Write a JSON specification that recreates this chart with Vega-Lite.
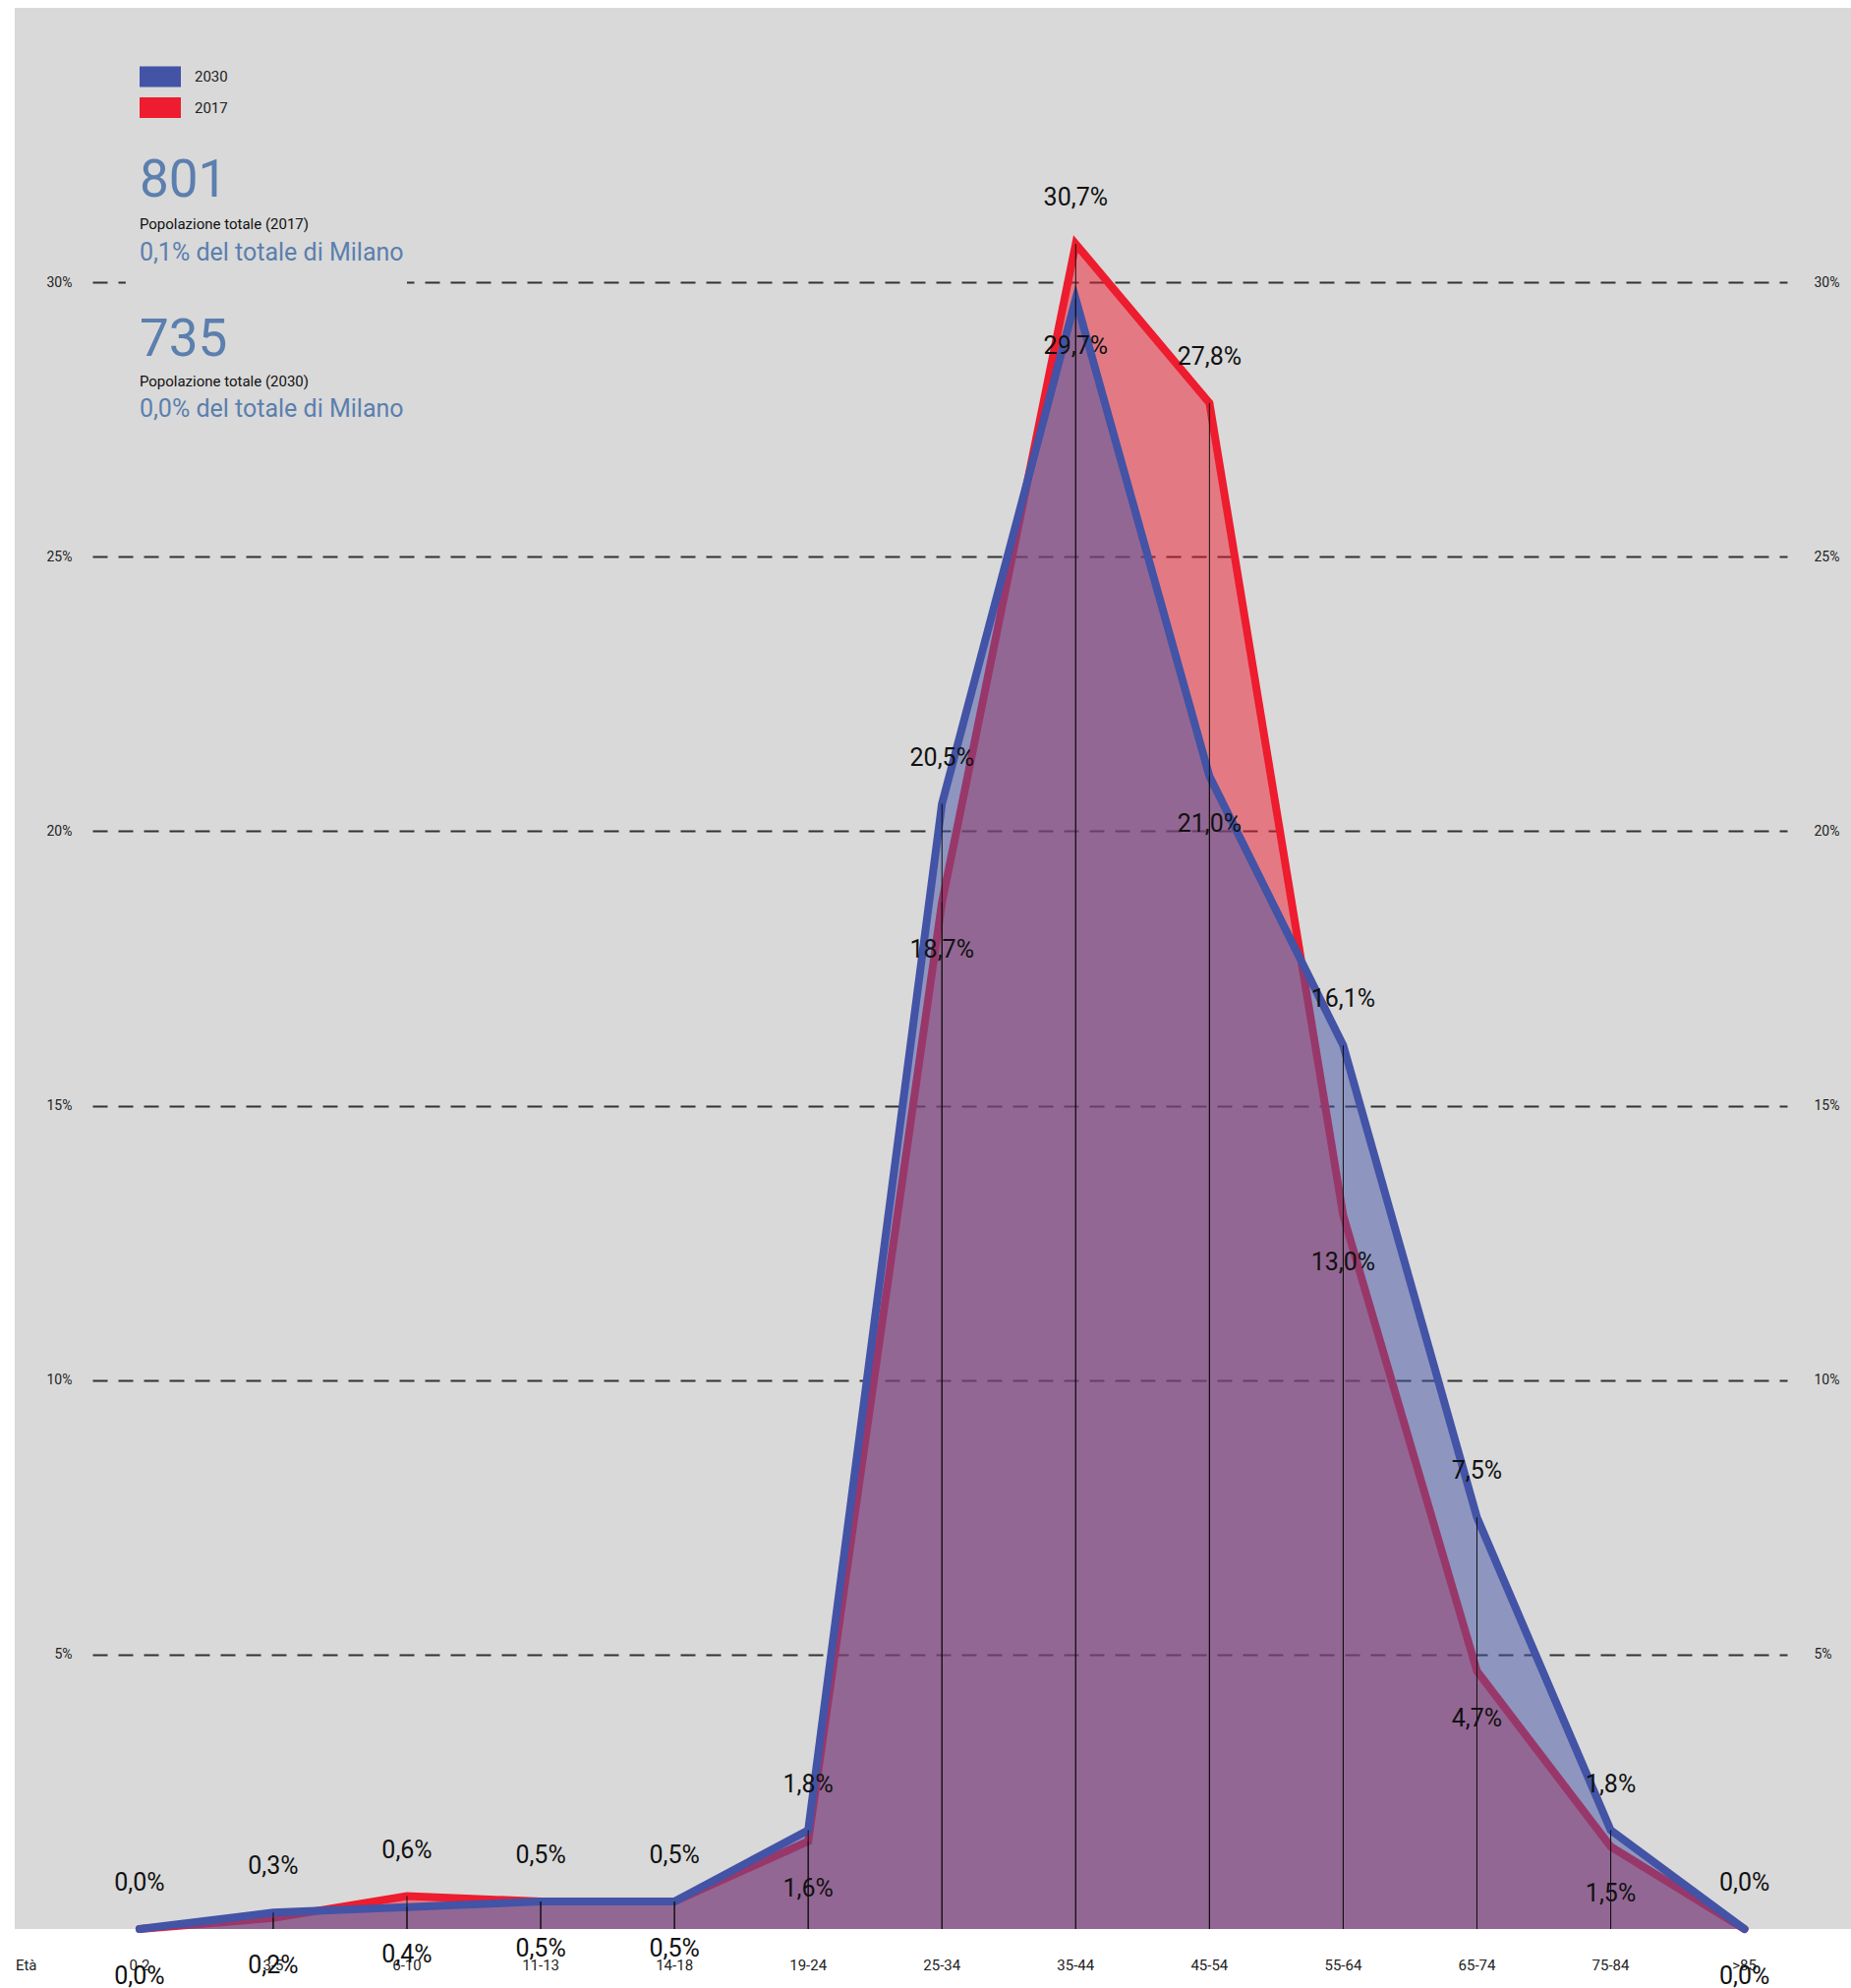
{
  "$schema": "https://vega.github.io/schema/vega-lite/v6.json",
  "width": 1868,
  "height": 1954,
  "autosize": {"type": "none"},
  "padding": {"left": 15, "top": 8, "right": 0, "bottom": 60},
  "background": "white",
  "config": {
    "view": {"fill": "#d9d9d9", "stroke": null},
    "font": "Roboto",
    "text": {"font": "Roboto"}
  },
  "data": {
    "values": [
      {"age": "0-2", "year": "2017", "value": 0.0},
      {"age": "3-5", "year": "2017", "value": 0.2},
      {"age": "6-10", "year": "2017", "value": 0.6},
      {"age": "11-13", "year": "2017", "value": 0.5},
      {"age": "14-18", "year": "2017", "value": 0.5},
      {"age": "19-24", "year": "2017", "value": 1.6},
      {"age": "25-34", "year": "2017", "value": 18.7},
      {"age": "35-44", "year": "2017", "value": 30.7},
      {"age": "45-54", "year": "2017", "value": 27.8},
      {"age": "55-64", "year": "2017", "value": 13.0},
      {"age": "65-74", "year": "2017", "value": 4.7},
      {"age": "75-84", "year": "2017", "value": 1.5},
      {"age": ">85", "year": "2017", "value": 0.0},
      {"age": "0-2", "year": "2030", "value": 0.0},
      {"age": "3-5", "year": "2030", "value": 0.3},
      {"age": "6-10", "year": "2030", "value": 0.4},
      {"age": "11-13", "year": "2030", "value": 0.5},
      {"age": "14-18", "year": "2030", "value": 0.5},
      {"age": "19-24", "year": "2030", "value": 1.8},
      {"age": "25-34", "year": "2030", "value": 20.5},
      {"age": "35-44", "year": "2030", "value": 29.7},
      {"age": "45-54", "year": "2030", "value": 21.0},
      {"age": "55-64", "year": "2030", "value": 16.1},
      {"age": "65-74", "year": "2030", "value": 7.5},
      {"age": "75-84", "year": "2030", "value": 1.8},
      {"age": ">85", "year": "2030", "value": 0.0}
    ]
  },
  "encoding": {
    "x": {
      "field": "age",
      "type": "nominal",
      "sort": ["0-2", "3-5", "6-10", "11-13", "14-18", "19-24", "25-34", "35-44", "45-54", "55-64", "65-74", "75-84", ">85"],
      "scale": {"type": "point", "range": [79, 1803], "padding": 0.3355, "align": 0.5246},
      "axis": null
    }
  },
  "resolve": {"axis": {"y": "independent"}},
  "layer": [
    {
      "data": {"values": [{}]},
      "mark": {"type": "rect", "fill": "#d9d9d9", "xOffset": -14},
      "encoding": {
        "x": {"datum": "0-2", "type": "nominal", "axis": null},
        "x2": {"datum": "6-10"},
        "y": {"datum": 29.8, "type": "quantitative", "scale": {"domain": [0, 35], "nice": false}, "axis": null},
        "y2": {"datum": 30.2}
      }
    },
    {
      "transform": [{"filter": "datum.year == '2017'"}],
      "mark": {"type": "area", "fillOpacity": 0.5},
      "encoding": {
        "y": {
          "field": "value", "type": "quantitative", "stack": null,
          "scale": {"domain": [0, 35], "nice": false},
          "axis": {
            "orient": "left",
            "title": null,
            "values": [5, 10, 15, 20, 25, 30],
            "labelExpr": "datum.value + '%'",
            "labelFont": "Roboto",
            "labelFontSize": 14,
            "labelColor": "#222",
            "labelPadding": 0,
            "ticks": false,
            "tickSize": 0,
            "domain": false,
            "offset": -58,
            "grid": true,
            "gridColor": "#333",
            "gridWidth": 2,
            "gridDash": [15, 11],
            "gridOpacity": 1
          }
        },
        "color": {
          "field": "year", "type": "nominal",
          "scale": {"domain": ["2030", "2017"], "range": ["#4353a6", "#ed1c2e"]},
          "legend": {
            "orient": "none",
            "legendX": 137.5,
            "legendY": 59.5,
            "title": null,
            "direction": "vertical",
            "symbolType": "M-2,-1H2V1H-2Z",
            "symbolSize": 441,
            "symbolOpacity": 1,
            "symbolStrokeWidth": 0,
            "labelFont": "Roboto",
            "labelFontSize": 15,
            "labelColor": "#222",
            "labelOffset": 24.5,
            "rowPadding": 10.5,
            "padding": 0
          }
        }
      }
    },
    {
      "transform": [{"filter": "datum.year == '2017'"}],
      "mark": {"type": "line", "stroke": "#ed1c2e", "strokeWidth": 8, "strokeJoin": "miter", "strokeCap": "round"},
      "encoding": {
        "y": {"field": "value", "type": "quantitative", "axis": null}
      }
    },
    {
      "transform": [{"filter": "datum.year == '2030'"}],
      "mark": {"type": "area", "fillOpacity": 0.5},
      "encoding": {
        "y": {
          "field": "value", "type": "quantitative", "stack": null,
          "axis": {
            "orient": "right",
            "title": null,
            "values": [5, 10, 15, 20, 25, 30],
            "labelExpr": "datum.value + '%'",
            "labelFont": "Roboto",
            "labelFontSize": 14,
            "labelColor": "#222",
            "labelPadding": 0,
            "ticks": false,
            "tickSize": 0,
            "domain": false,
            "offset": -38,
            "grid": false
          }
        },
        "color": {"field": "year", "type": "nominal"}
      }
    },
    {
      "transform": [{"filter": "datum.year == '2030'"}],
      "mark": {"type": "line", "stroke": "#4353a6", "strokeWidth": 8, "strokeJoin": "miter", "strokeCap": "round"},
      "encoding": {
        "y": {"field": "value", "type": "quantitative", "axis": null}
      }
    },
    {
      "mark": {"type": "rule", "color": "#111", "strokeWidth": 1},
      "encoding": {
        "y": {"field": "value", "type": "quantitative", "axis": null},
        "y2": {"datum": 0}
      }
    },
    {
      "transform": [{"filter": "datum.year == '2017'"}],
      "mark": {"type": "text", "font": "Roboto", "fontSize": 15, "color": "#222", "baseline": "middle", "dy": 37},
      "encoding": {
        "y": {"datum": 0, "type": "quantitative", "axis": null},
        "text": {"field": "age", "type": "nominal"}
      }
    },
    {
      "data": {"values": [{}]},
      "mark": {"type": "text", "text": "Età", "font": "Roboto", "fontSize": 15, "color": "#222", "align": "left", "baseline": "middle", "dx": -126, "dy": 37},
      "encoding": {
        "x": {"datum": "0-2", "type": "nominal", "axis": null},
        "y": {"datum": 0, "type": "quantitative", "axis": null}
      }
    },
    {
      "transform": [
        {"aggregate": [{"op": "max", "field": "value", "as": "hi"}], "groupby": ["age"]},
        {"calculate": "replace(format(datum.hi, '.1f'), '.', ',') + '%'", "as": "label"}
      ],
      "mark": {"type": "text", "font": "Roboto", "fontSize": 25, "color": "#111", "baseline": "middle", "dy": -47},
      "encoding": {
        "y": {"field": "hi", "type": "quantitative", "axis": null},
        "text": {"field": "label", "type": "nominal"}
      }
    },
    {
      "transform": [
        {"aggregate": [{"op": "min", "field": "value", "as": "lo"}], "groupby": ["age"]},
        {"calculate": "replace(format(datum.lo, '.1f'), '.', ',') + '%'", "as": "label"}
      ],
      "mark": {"type": "text", "font": "Roboto", "fontSize": 25, "color": "#111", "baseline": "middle", "dy": 48},
      "encoding": {
        "y": {"field": "lo", "type": "quantitative", "axis": null},
        "text": {"field": "label", "type": "nominal"}
      }
    },
    {
      "data": {"values": [{}]},
      "mark": {"type": "text", "text": "801", "font": "Roboto", "fontSize": 53, "color": "#5b7fae", "align": "left", "baseline": "alphabetic"},
      "encoding": {
        "x": {"datum": "0-2", "type": "nominal", "axis": null},
        "y": {"datum": 31.56, "type": "quantitative", "axis": null}
      }
    },
    {
      "data": {"values": [{}]},
      "mark": {"type": "text", "text": "Popolazione totale (2017)", "font": "Roboto", "fontSize": 15, "color": "#111", "align": "left", "baseline": "alphabetic"},
      "encoding": {
        "x": {"datum": "0-2", "type": "nominal", "axis": null},
        "y": {"datum": 30.97, "type": "quantitative", "axis": null}
      }
    },
    {
      "data": {"values": [{}]},
      "mark": {"type": "text", "text": "0,1% del totale di Milano", "font": "Roboto", "fontSize": 25, "color": "#5b7fae", "align": "left", "baseline": "alphabetic"},
      "encoding": {
        "x": {"datum": "0-2", "type": "nominal", "axis": null},
        "y": {"datum": 30.39, "type": "quantitative", "axis": null}
      }
    },
    {
      "data": {"values": [{}]},
      "mark": {"type": "text", "text": "735", "font": "Roboto", "fontSize": 53, "color": "#5b7fae", "align": "left", "baseline": "alphabetic"},
      "encoding": {
        "x": {"datum": "0-2", "type": "nominal", "axis": null},
        "y": {"datum": 28.66, "type": "quantitative", "axis": null}
      }
    },
    {
      "data": {"values": [{}]},
      "mark": {"type": "text", "text": "Popolazione totale (2030)", "font": "Roboto", "fontSize": 15, "color": "#111", "align": "left", "baseline": "alphabetic"},
      "encoding": {
        "x": {"datum": "0-2", "type": "nominal", "axis": null},
        "y": {"datum": 28.1, "type": "quantitative", "axis": null}
      }
    },
    {
      "data": {"values": [{}]},
      "mark": {"type": "text", "text": "0,0% del totale di Milano", "font": "Roboto", "fontSize": 25, "color": "#5b7fae", "align": "left", "baseline": "alphabetic"},
      "encoding": {
        "x": {"datum": "0-2", "type": "nominal", "axis": null},
        "y": {"datum": 27.55, "type": "quantitative", "axis": null}
      }
    }
  ]
}
